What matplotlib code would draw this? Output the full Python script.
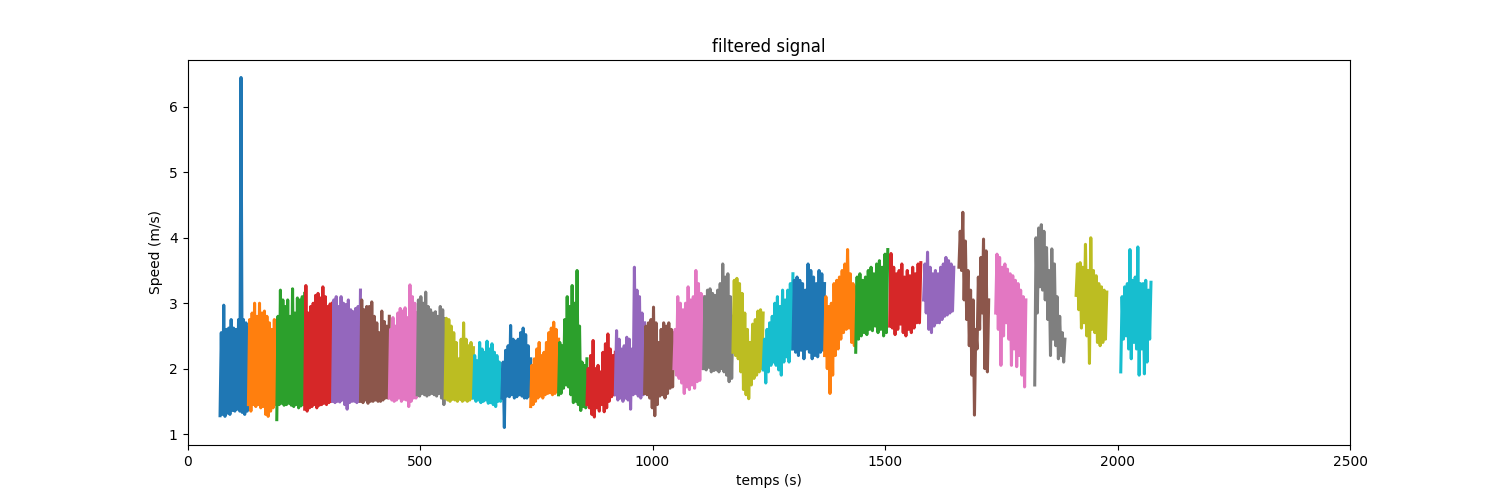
import numpy as np
import matplotlib
matplotlib.use('Agg')
import matplotlib.pyplot as plt

# start / end time of each recording segment (s)
t_start = [70, 131, 192, 252, 312, 372, 434, 494, 554, 615,
           676, 738, 798, 859, 920, 983, 1046, 1110, 1173, 1238,
           1302, 1370, 1437, 1510, 1583, 1659, 1738, 1822, 1911, 2007]
t_end = [131, 192, 252, 312, 372, 434, 494, 554, 615, 676,
         738, 798, 859, 920, 983, 1046, 1110, 1173, 1238, 1302,
         1370, 1437, 1506, 1577, 1648, 1723, 1803, 1887, 1977, 2072]

# peaks of the filtered speed inside each segment (m/s)
upper = [
    [2.55, 2.97, 2.6, 2.62, 2.75, 2.62, 2.6, 2.75, 6.45, 2.75, 2.7, 2.62],
    [2.75, 2.85, 3.0, 2.8, 3.0, 2.85, 2.88, 2.8, 2.7, 2.6, 2.75, 2.6],
    [2.8, 3.2, 3.05, 2.95, 3.05, 2.8, 3.22, 2.85, 3.08, 3.05, 3.1, 3.15],
    [3.27, 2.85, 2.95, 3.0, 3.12, 3.15, 3.08, 3.25, 3.1, 2.95, 2.99, 3.0],
    [3.05, 3.1, 2.95, 3.1, 3.0, 2.98, 3.05, 2.9, 2.87, 2.92, 2.95, 3.2],
    [3.05, 2.9, 2.95, 2.95, 3.02, 2.8, 2.7, 2.55, 2.88, 2.72, 2.65, 2.8],
    [2.6, 2.78, 2.65, 2.85, 2.92, 2.88, 2.93, 2.78, 3.28, 3.1, 3.0, 2.85],
    [3.05, 3.1, 3.0, 3.17, 2.95, 2.9, 2.85, 2.87, 2.8, 2.95, 2.9, 2.76],
    [2.77, 2.75, 2.65, 2.55, 2.4, 2.15, 2.45, 2.7, 2.45, 2.35, 2.4, 2.32],
    [2.2, 2.12, 2.4, 2.3, 2.25, 2.42, 2.3, 2.38, 2.25, 2.2, 2.1, 1.98],
    [2.1, 2.28, 2.35, 2.66, 2.45, 2.42, 2.45, 2.55, 2.62, 2.52, 2.35, 2.15],
    [2.05, 2.15, 2.3, 2.4, 2.2, 2.25, 2.4, 2.55, 2.62, 2.71, 2.6, 2.45],
    [2.4, 2.35, 2.75, 3.1, 2.95, 3.27, 3.0, 3.5, 2.65, 2.1, 2.05, 2.15],
    [2.0, 2.2, 2.43, 2.0, 2.05, 1.95, 2.25, 2.38, 2.53, 2.3, 2.2, 2.25],
    [2.58, 2.45, 2.3, 2.35, 2.48, 2.45, 2.3, 3.55, 3.2, 3.1, 2.85, 2.7],
    [2.65, 2.7, 2.75, 2.94, 2.7, 2.4, 2.6, 2.7, 2.65, 2.7, 2.6, 2.55],
    [2.6, 3.1, 3.0, 2.9, 3.0, 3.25, 3.05, 3.1, 3.5, 3.3, 3.15, 3.1],
    [3.1, 3.2, 3.22, 3.15, 3.12, 3.2, 3.3, 3.6, 3.4, 3.45, 3.1, 2.8],
    [3.35, 3.38, 3.3, 3.15, 2.85, 2.6, 2.4, 2.68, 2.75, 2.88, 2.9, 2.85],
    [2.45, 2.6, 2.7, 2.8, 3.0, 3.1, 2.95, 3.2, 3.05, 3.2, 3.3, 3.45],
    [3.35, 3.4, 3.35, 3.3, 3.2, 3.6, 3.5, 3.4, 3.3, 3.5, 3.45, 3.3],
    [3.1, 2.95, 3.0, 3.3, 3.35, 3.4, 3.5, 3.6, 3.82, 3.45, 3.3, 3.25],
    [3.4, 3.45, 3.35, 3.4, 3.5, 3.55, 3.45, 3.6, 3.65, 3.55, 3.75, 3.82],
    [3.76, 3.55, 3.45, 3.5, 3.6, 3.4, 3.5, 3.42, 3.55, 3.45, 3.6, 3.62],
    [3.6, 3.78, 3.55, 3.45, 3.5, 3.45, 3.55, 3.6, 3.7, 3.65, 3.6, 3.55],
    [4.1, 4.39, 3.95, 3.5, 3.2, 3.05, 2.6, 3.4, 3.7, 3.98, 3.8, 3.05],
    [3.75, 3.7, 3.55, 3.6, 3.52, 3.45, 3.42, 3.35, 3.3, 3.2, 3.1, 3.05],
    [4.0, 4.15, 4.2, 4.1, 3.85, 3.5, 3.83, 3.6, 3.1, 2.8, 2.55, 2.45],
    [3.6, 3.62, 3.55, 3.9, 3.5, 4.0, 3.5, 3.42, 3.3, 3.25, 3.2, 3.17],
    [3.1, 3.25, 3.3, 3.82, 3.35, 3.4, 3.86, 3.3, 3.3, 3.35, 3.2, 3.32],
]

# troughs of the filtered speed inside each segment (m/s)
lower = [
    [1.28, 1.3, 1.27, 1.32, 1.3, 1.36, 1.35, 1.38, 1.35, 1.33, 1.3, 1.35],
    [1.45, 1.35, 1.45, 1.42, 1.45, 1.4, 1.42, 1.3, 1.27, 1.35, 1.4, 1.45],
    [1.22, 1.45, 1.47, 1.44, 1.45, 1.47, 1.44, 1.42, 1.45, 1.4, 1.43, 1.45],
    [1.38, 1.35, 1.4, 1.42, 1.45, 1.4, 1.44, 1.45, 1.47, 1.45, 1.48, 1.5],
    [1.5, 1.48, 1.5, 1.49, 1.52, 1.45, 1.38, 1.48, 1.5, 1.5, 1.48, 1.5],
    [1.5, 1.48, 1.52, 1.47, 1.5, 1.5, 1.52, 1.5, 1.5, 1.52, 1.55, 1.55],
    [1.55, 1.52, 1.5, 1.52, 1.55, 1.5, 1.53, 1.52, 1.42, 1.5, 1.55, 1.55],
    [1.6, 1.58, 1.62, 1.6, 1.58, 1.6, 1.62, 1.6, 1.58, 1.62, 1.55, 1.45],
    [1.55, 1.52, 1.5, 1.53, 1.52, 1.5, 1.53, 1.5, 1.52, 1.5, 1.52, 1.55],
    [1.55, 1.5, 1.52, 1.48, 1.5, 1.52, 1.47, 1.48, 1.45, 1.42, 1.5, 1.5],
    [1.55, 1.1, 1.58, 1.57, 1.6, 1.55, 1.57, 1.6, 1.58, 1.55, 1.55, 1.58],
    [1.42, 1.45, 1.5, 1.55, 1.58, 1.55, 1.6, 1.62, 1.63, 1.6, 1.62, 1.65],
    [1.6, 1.62, 1.7, 1.75, 1.72, 1.6, 1.48, 1.5, 1.45, 1.36, 1.42, 1.4],
    [1.45, 1.4, 1.3, 1.26, 1.4, 1.35, 1.45, 1.34, 1.4, 1.5, 1.57, 1.6],
    [1.6, 1.52, 1.55, 1.5, 1.55, 1.52, 1.38, 1.6, 1.62, 1.58, 1.55, 1.6],
    [1.62, 1.6, 1.55, 1.4, 1.28, 1.45, 1.58, 1.6, 1.55, 1.62, 1.7, 1.72],
    [2.0, 1.9, 1.85, 1.78, 1.62, 1.72, 1.68, 1.75, 1.7, 1.8, 1.82, 2.0],
    [2.0, 1.98, 2.02, 1.95, 1.97, 1.98, 1.95, 2.0, 1.95, 1.9, 1.8, 1.85],
    [2.25, 2.2, 2.15, 1.95, 1.68, 1.6, 1.54, 1.75, 1.85, 1.9, 1.95, 2.0],
    [1.98, 1.78, 1.95, 2.05, 2.1, 2.05, 1.98, 1.9, 2.1, 2.18, 2.1, 2.3],
    [2.3, 2.25, 2.2, 2.28, 2.15, 2.3, 2.25, 2.15, 2.2, 2.18, 2.25, 2.28],
    [2.2, 2.0, 1.62, 1.9, 2.2, 2.3, 2.45, 2.55, 2.6, 2.62, 2.4, 2.35],
    [2.25, 2.45, 2.5, 2.55, 2.52, 2.6, 2.58, 2.65, 2.55, 2.6, 2.5, 2.55],
    [2.65, 2.62, 2.52, 2.6, 2.68, 2.55, 2.5, 2.6, 2.55, 2.62, 2.7, 2.7],
    [3.05, 2.85, 2.6, 2.55, 2.65, 2.7, 2.7, 2.75, 2.8, 2.82, 2.85, 2.88],
    [3.55, 3.5, 3.05, 2.75, 2.35, 1.9, 1.29, 2.3, 2.6, 2.85, 2.0, 1.95],
    [2.85, 2.6, 2.05, 2.5, 2.7, 2.45, 2.05, 2.3, 2.03, 2.2, 1.9, 1.72],
    [1.75, 2.85, 3.25, 3.2, 3.05, 2.75, 2.2, 2.45, 2.35, 2.15, 2.2, 2.1],
    [3.12, 2.9, 2.62, 2.7, 2.5, 2.08, 2.6, 2.55, 2.4, 2.35, 2.4, 2.45],
    [1.95, 2.45, 2.5, 2.3, 2.15, 2.4, 2.3, 1.9, 2.3, 1.92, 2.1, 2.45],
]

plt.figure(figsize=(15, 5), dpi=100)

for start, end, hi, lo in zip(t_start, t_end, upper, lower):
    # the speed oscillates between troughs and peaks
    speed = np.empty(2 * len(hi))
    speed[0::2] = lo
    speed[1::2] = hi
    t = np.linspace(start, end, len(speed))
    plt.plot(t, speed, linewidth=2.2)

plt.title('filtered signal')
plt.xlabel('temps (s)')
plt.ylabel('Speed (m/s)')
plt.xlim(0, 2500)
plt.xticks([0, 500, 1000, 1500, 2000, 2500])
plt.savefig('out.png')
